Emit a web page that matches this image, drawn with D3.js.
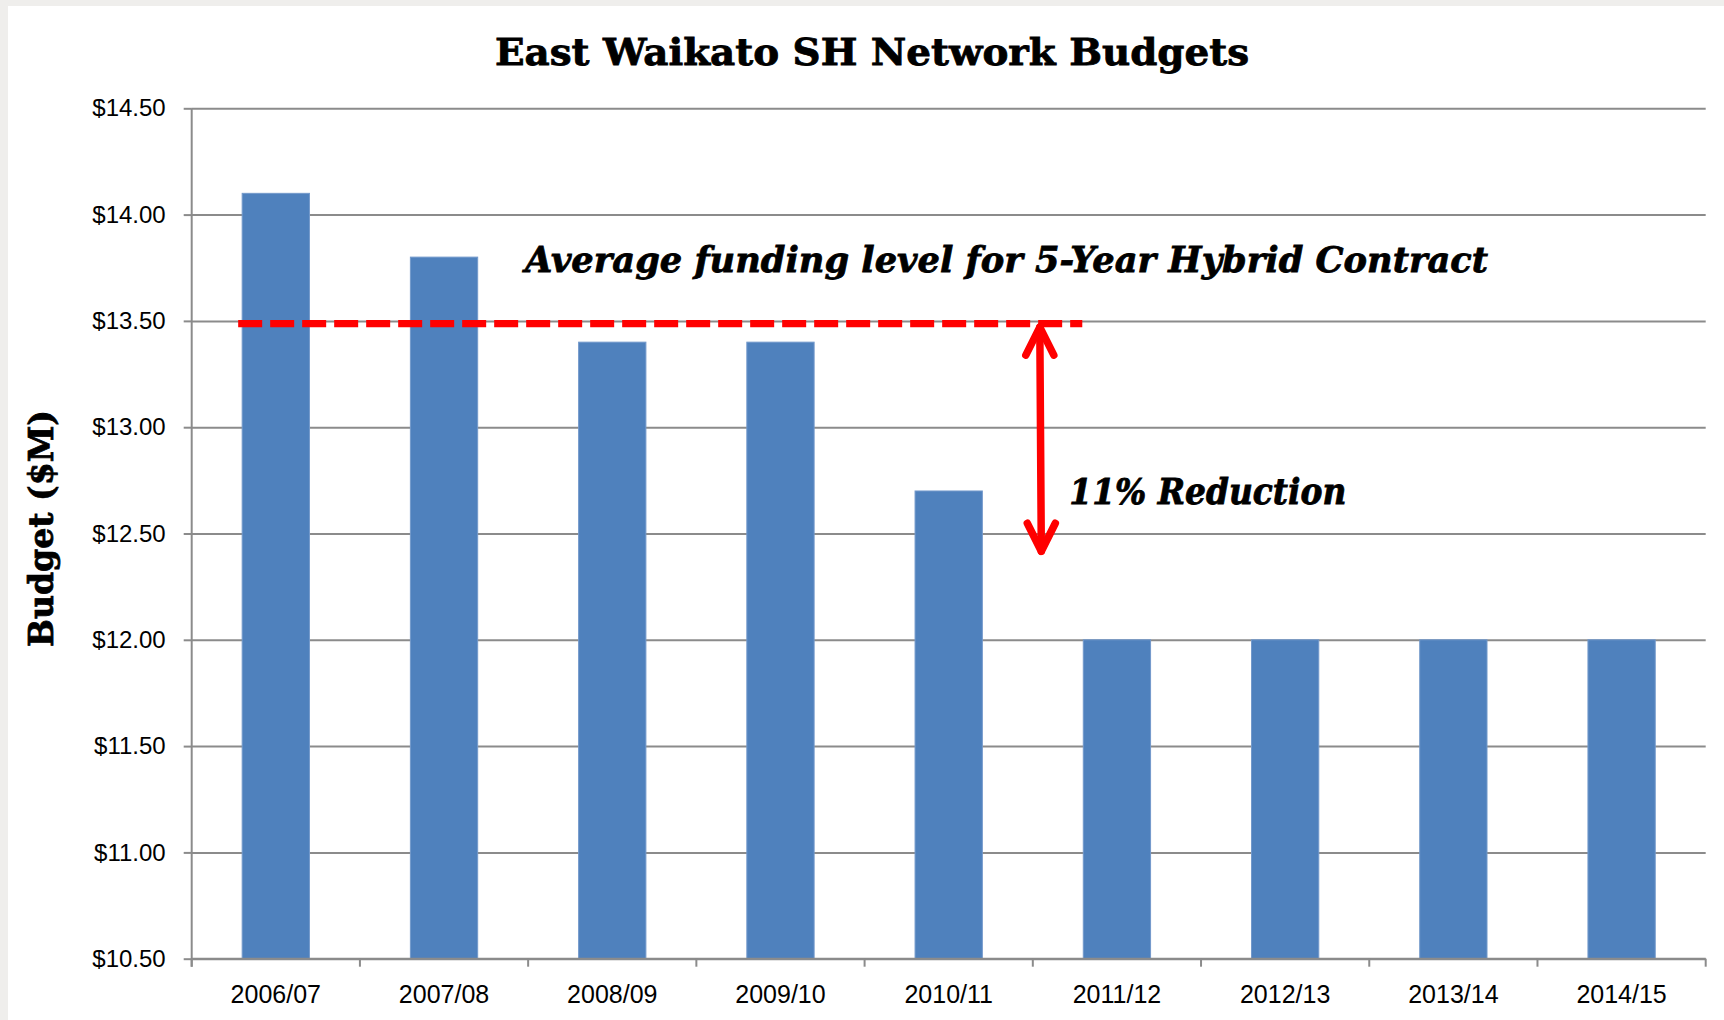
<!DOCTYPE html>
<html>
<head>
<meta charset="utf-8">
<script src="https://cdn.jsdelivr.net/npm/d3@7"></script>
<style>
  html, body { margin: 0; padding: 0; background: #efeeec; }
  svg { display: block; }
</style>
</head>
<body>
<svg id="chart" width="1724" height="1020"></svg>
<script>
// ---- data ----
const categories = ["2006/07","2007/08","2008/09","2009/10","2010/11","2011/12","2012/13","2013/14","2014/15"];
const budgets = [14.10, 13.80, 13.40, 13.40, 12.70, 12.00, 12.00, 12.00, 12.00];
const yTicks = [10.5, 11.0, 11.5, 12.0, 12.5, 13.0, 13.5, 14.0, 14.5];
const avgLevel = 13.487;          // dashed "average funding" line
const reductionBottom = 12.40;    // bottom of the 11% arrow
const titleText = "East Waikato SH Network Budgets";
const yTitle = "Budget ($M)";
const avgText = "Average funding level for 5-Year Hybrid Contract";
const reductionText = "11% Reduction";

// ---- layout ----
const W = 1724, H = 1020;
const plotL = 191.7, plotR = 1705.7, plotT = 108.3, plotB = 958.7;

const svg = d3.select("#chart");
svg.append("rect").attr("x", 8).attr("y", 6).attr("width", W - 8).attr("height", H - 6).attr("fill", "#ffffff");

const x = d3.scaleBand().domain(categories).range([plotL, plotR]).paddingInner(0).paddingOuter(0);
const y = d3.scaleLinear().domain([10.5, 14.5]).range([plotB, plotT]);
const barW = x.bandwidth() * 0.4;
const barOff = (x.bandwidth() - barW) / 2;

const gridColor = "#8b8b8b";

// gridlines
const grid = svg.append("g").attr("transform", `translate(${plotL},0)`)
  .call(d3.axisLeft(y).tickValues(yTicks).tickSize(-(plotR - plotL)).tickFormat(""));
grid.select(".domain").remove();
grid.selectAll("line").attr("stroke", gridColor).attr("stroke-width", 2);

// bars
svg.append("g").selectAll("rect").data(budgets).join("rect")
  .attr("x", (d, i) => x(categories[i]) + barOff)
  .attr("y", d => y(d))
  .attr("width", barW)
  .attr("height", d => y(10.5) - y(d))
  .attr("fill", "#4f81bd")
  .attr("stroke", "#7399cb")
  .attr("stroke-width", 1);

// y axis
const yAxis = svg.append("g").attr("transform", `translate(${plotL},0)`)
  .call(d3.axisLeft(y).tickValues(yTicks).tickSize(8).tickPadding(18)
    .tickFormat(d => "$" + d.toFixed(2)));
yAxis.select(".domain").attr("stroke", gridColor).attr("stroke-width", 2)
  .attr("d", `M0,${plotT}V${plotB + 8}`);
yAxis.selectAll("line").attr("stroke", gridColor).attr("stroke-width", 2);
yAxis.selectAll("text").attr("font-family", "'Liberation Sans', Arial, sans-serif")
  .attr("font-size", 24).attr("fill", "#000");

// x axis
const xAxis = svg.append("g").attr("transform", `translate(0,${plotB})`)
  .call(d3.axisBottom(x).tickSize(0).tickPadding(27));
xAxis.select(".domain").attr("stroke", gridColor).attr("stroke-width", 2)
  .attr("d", `M${plotL},0H${plotR}`);
xAxis.selectAll("text").attr("font-family", "'Liberation Sans', Arial, sans-serif")
  .attr("font-size", 25).attr("fill", "#000");
const boundaries = categories.map(c => x(c)).concat([x.range()[1]]);
svg.append("g").selectAll("line").data(boundaries).join("line")
  .attr("x1", d => d).attr("x2", d => d)
  .attr("y1", plotB).attr("y2", plotB + 8)
  .attr("stroke", gridColor).attr("stroke-width", 2);

// title
svg.append("text").attr("x", 495).attr("y", 65)
  .attr("font-family", "'DejaVu Serif', serif").attr("font-weight", "bold")
  .attr("font-size", 37).attr("textLength", 754).attr("lengthAdjust", "spacingAndGlyphs")
  .attr("stroke", "#000").attr("stroke-width", 0.8)
  .text(titleText);

// y title
svg.append("text")
  .attr("transform", `translate(53,${(410 + 647) / 2}) rotate(-90)`)
  .attr("text-anchor", "middle")
  .attr("font-family", "'DejaVu Serif', serif").attr("font-weight", "bold")
  .attr("font-size", 34).attr("textLength", 237).attr("lengthAdjust", "spacingAndGlyphs")
  .attr("stroke", "#000").attr("stroke-width", 0.8)
  .text(yTitle);

// dashed average line
const red = "#ff0000";
svg.append("line")
  .attr("x1", x(categories[0]) + barOff - 4)
  .attr("x2", x(categories[5]) + barOff - 1)
  .attr("y1", y(avgLevel)).attr("y2", y(avgLevel))
  .attr("stroke", red).attr("stroke-width", 7.3).attr("stroke-dasharray", "24,8");

// double-headed arrow
const ax = x(categories[5]) + 7;
const yTop = y(avgLevel) + 3.5, yBot = y(reductionBottom) - 3.5;
const arrow = svg.append("g").attr("stroke", red).attr("stroke-width", 7.5)
  .attr("fill", "none").attr("stroke-linecap", "round").attr("stroke-linejoin", "round");
arrow.append("path").attr("d", `M${ax},${yTop}L${ax + 1.5},${yBot}`);
arrow.append("path").attr("d", `M${ax - 14},${yTop + 28}L${ax},${yTop}L${ax + 14},${yTop + 28}`);
arrow.append("path").attr("d", `M${ax + 1.5 - 14},${yBot - 28}L${ax + 1.5},${yBot}L${ax + 1.5 + 14},${yBot - 28}`);

// annotation texts
svg.append("text").attr("x", 525).attr("y", 271.7)
  .attr("font-family", "'DejaVu Serif', serif").attr("font-weight", "bold").attr("font-style", "italic")
  .attr("font-size", 36).attr("textLength", 963).attr("lengthAdjust", "spacingAndGlyphs")
  .attr("stroke", "#000").attr("stroke-width", 0.8)
  .text(avgText);

svg.append("text").attr("x", 1069.3).attr("y", 504)
  .attr("font-family", "'DejaVu Serif', serif").attr("font-weight", "bold").attr("font-style", "italic")
  .attr("font-size", 35).attr("textLength", 277).attr("lengthAdjust", "spacingAndGlyphs")
  .attr("stroke", "#000").attr("stroke-width", 0.8)
  .text(reductionText);
</script>
</body>
</html>
